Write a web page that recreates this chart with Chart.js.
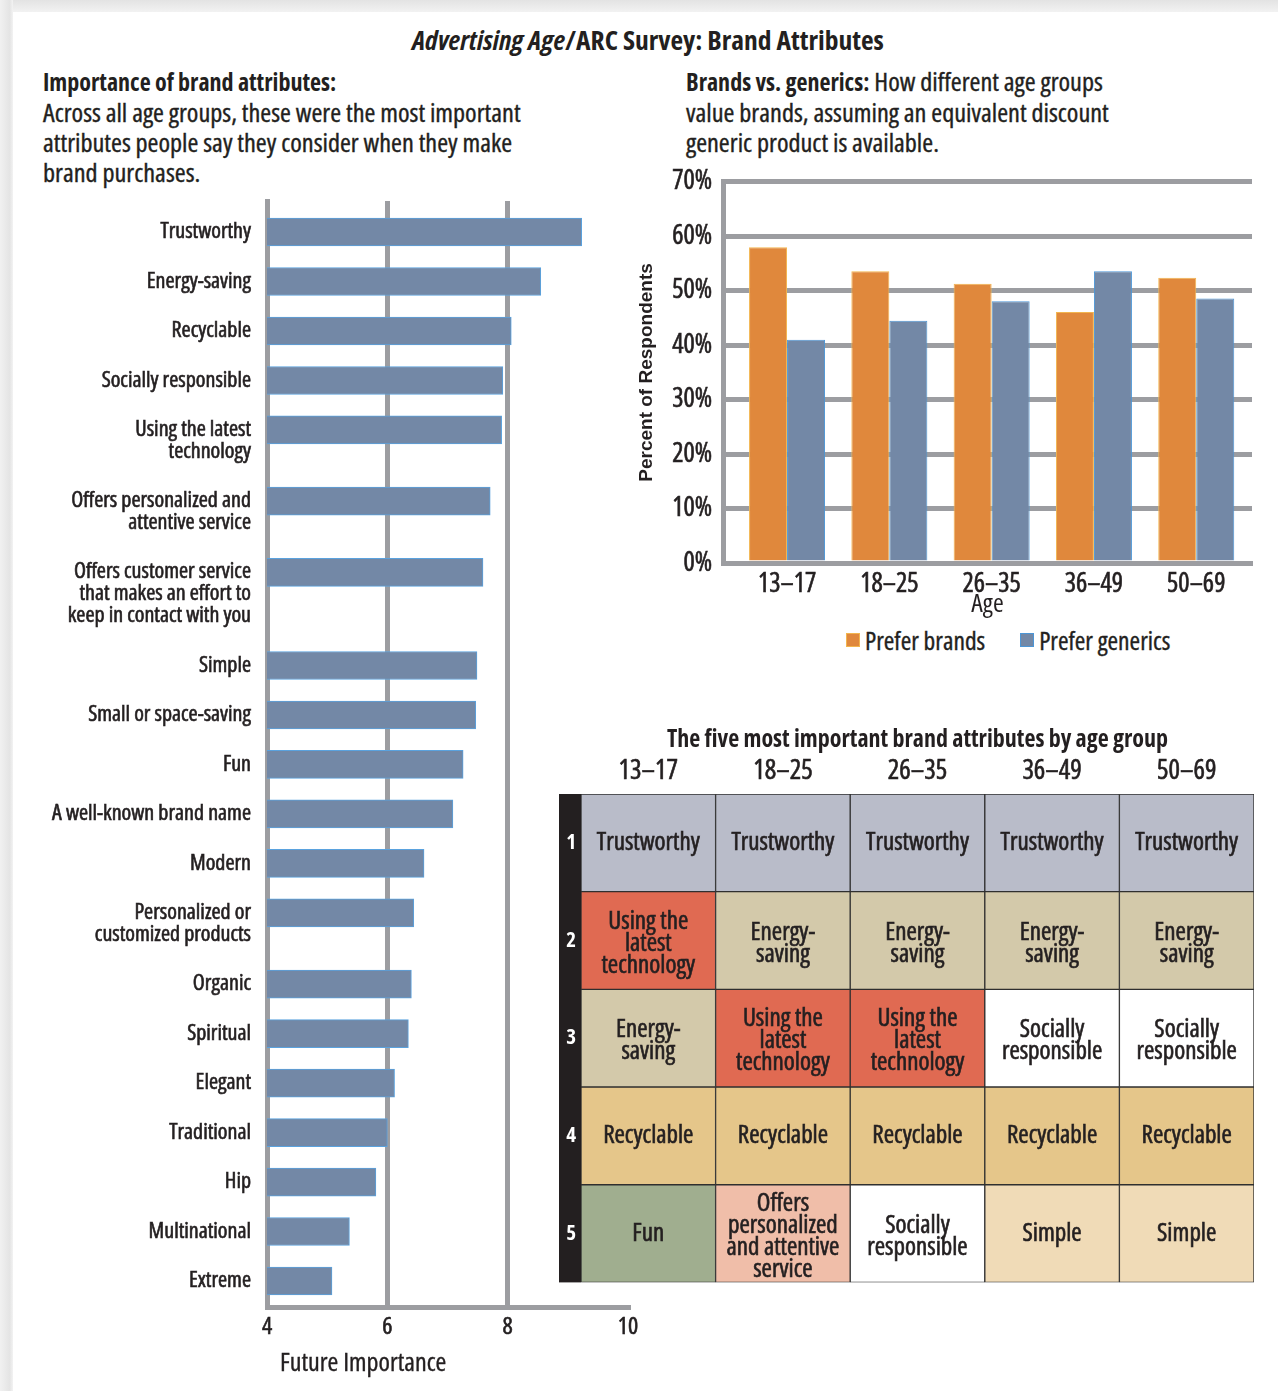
<!DOCTYPE html>
<html lang="en">
<head>
<meta charset="utf-8">
<title>Advertising Age/ARC Survey: Brand Attributes</title>
<script src="https://cdn.jsdelivr.net/npm/chart.js@4.4.1/dist/chart.umd.min.js"></script>
<style>
    body { margin: 0; }
    #page { position: relative; width: 1278px; height: 1391px; background: #fff; overflow: hidden;
            font-family: "Open Sans", sans-serif; font-stretch: condensed; color: #231f20; }
    .randOben { position: absolute; left: 0; top: 0; width: 1278px; height: 12px; background: linear-gradient(#e3e3e3, #f2f2f2); }
    .randLinks { position: absolute; left: 0; top: 0; width: 13px; height: 1391px; background: linear-gradient(to right, #f1f1f1, #e4e4e4 75%, #f3f3f3); }
    #mainTitle { position: absolute; left: 0; top: 24px; width: 1296px; text-align: center; font-size: 27.5px; font-weight: bold; line-height: 32px; white-space: nowrap; }
    .intro { position: absolute; top: 66px; font-size: 26.3px; line-height: 30px; white-space: nowrap; -webkit-text-stroke: 0.35px #231f20; }
    .intro b { font-size: 24px; -webkit-text-stroke: 0; }
    .achse { position: absolute; font-size: 26px; line-height: 30px; white-space: nowrap; -webkit-text-stroke: 0.35px #231f20; }
    #tabTitel { position: absolute; left: 0; top: 723px; width: 1835px; text-align: center; font-size: 24px; font-weight: bold; line-height: 30px; white-space: nowrap; }
    canvas { position: absolute; }
    #brandLegend { position: absolute; left: 846px; top: 627px; height: 26px; display: flex; align-items: center; font-size: 25.5px; line-height: 26px; white-space: nowrap; -webkit-text-stroke: 0.35px #231f20; }
    #brandLegend .box { display: inline-block; width: 12px; height: 12px; border: 1px solid; margin-right: 5px; }
    #brandLegend .item { display: flex; align-items: center; margin-right: 35px; }
</style>
</head>
<body>
<div id="page">
    <div class="randOben"></div>
    <div class="randLinks"></div>
    <div id="mainTitle"><i>Advertising Age</i>/ARC Survey: Brand Attributes</div>
    <div class="intro" style="left:43px"><b>Importance of brand attributes:</b><br>Across all age groups, these were the most important<br>attributes people say they consider when they make<br>brand purchases.</div>
    <div class="intro" style="left:686px"><b>Brands vs. generics:</b> How different age groups<br>value brands, assuming an equivalent discount<br>generic product is available.</div>

    <canvas id="importanceChart" width="650" height="1216" style="left:0px; top:174px"></canvas>
    <div class="achse" style="left:280px; top:1346px">Future Importance</div>
    <canvas id="brandsChart" width="648" height="465" style="left:630px; top:155px"></canvas>
    <div id="brandLegend"></div>
    <div id="tabTitel">The five most important brand attributes by age group</div>
    <canvas id="topChart" width="717" height="585" style="left:559px; top:715px"></canvas>
</div>

<script>
"use strict"

// Eigenschaften links (mehrzeilige Beschriftungen als Array)
const attributeLabels = [
    'Trustworthy',
    'Energy-saving',
    'Recyclable',
    'Socially responsible',
    ['Using the latest', 'technology'],
    ['Offers personalized and', 'attentive service'],
    ['Offers customer service', 'that makes an effort to', 'keep in contact with you'],
    'Simple',
    'Small or space-saving',
    'Fun',
    'A well-known brand name',
    'Modern',
    ['Personalized or', 'customized products'],
    'Organic',
    'Spiritual',
    'Elegant',
    'Traditional',
    'Hip',
    'Multinational',
    'Extreme'
];
const futureImportance = [9.23, 8.55, 8.06, 7.92, 7.9, 7.71, 7.59, 7.49, 7.47, 7.26, 7.09, 6.61, 6.44, 6.4, 6.35, 6.12, 6.0, 5.81, 5.37, 5.08];
const importanceTicks = [4, 6, 8, 10];

// Marke oder No-Name, nach Alter
const ageGroups = ['13–17', '18–25', '26–35', '36–49', '50–69'];
const preferBrands = [58, 53.6, 51.3, 46.1, 52.4];
const preferGenerics = [41, 44.5, 48.1, 53.6, 48.6];
const percentTicks = [0, 10, 20, 30, 40, 50, 60, 70];

// Tabelle: die fuenf wichtigsten Eigenschaften je Altersgruppe (eine Liste pro Rang)
const ranks = ['1', '2', '3', '4', '5'];
const rank1 = ['Trustworthy', 'Trustworthy', 'Trustworthy', 'Trustworthy', 'Trustworthy'];
const rank2 = ['Using the latest technology', 'Energy-saving', 'Energy-saving', 'Energy-saving', 'Energy-saving'];
const rank3 = ['Energy-saving', 'Using the latest technology', 'Using the latest technology', 'Socially responsible', 'Socially responsible'];
const rank4 = ['Recyclable', 'Recyclable', 'Recyclable', 'Recyclable', 'Recyclable'];
const rank5 = ['Fun', 'Offers personalized and attentive service', 'Socially responsible', 'Simple', 'Simple'];
const cellSize = [1, 1, 1, 1, 1]; // jede Zelle ist genau ein Feld hoch

const rangListen = [rank1, rank2, rank3, rank4, rank5];

// Farben und Zeilenumbrueche der Tabellenzellen
const zellFarben = {
    'Trustworthy': '#b9bcc9',
    'Energy-saving': '#d3c9aa',
    'Using the latest technology': '#e06a52',
    'Socially responsible': '#ffffff',
    'Recyclable': '#e5c68a',
    'Fun': '#a0ae8f',
    'Offers personalized and attentive service': '#f0bea9',
    'Simple': '#f0dbb7'
};
const zellUmbruch = {
    'Using the latest technology': ['Using the', 'latest', 'technology'],
    'Energy-saving': ['Energy-', 'saving'],
    'Socially responsible': ['Socially', 'responsible'],
    'Offers personalized and attentive service': ['Offers', 'personalized', 'and attentive', 'service']
};

const SCHRIFT = '"Open Sans", sans-serif';
const SCHMAL = 'condensed'; // schmaler Schnitt, wird ueber das weight-Feld in den Font-String geschrieben
const GRAU = '#9c9da1';
const TEXT = '#231f20';

Chart.defaults.font.family = SCHRIFT;
Chart.defaults.font.weight = SCHMAL;
Chart.defaults.color = TEXT;
Chart.defaults.animation = false;
Chart.defaults.events = [];
Chart.defaults.plugins.legend.display = false;
Chart.defaults.plugins.tooltip.enabled = false;

// etwas kraeftigere Schrift fuer die Achsenbeschriftungen
const strich = { textStrokeColor: TEXT, textStrokeWidth: 0.6 };

// Zeilenpositionen: jede weitere Textzeile im Label schiebt die naechste Zeile etwas nach unten
const EXTRA_ZEILE = 0.44;
let zeilenPos = [];
let labelPos = [];
for (let i = 0; i < attributeLabels.length; i++) {
    let n = Array.isArray(attributeLabels[i]) ? attributeLabels[i].length : 1;
    if (i == 0) {
        zeilenPos.push(0);
    } else {
        let nVor = Array.isArray(attributeLabels[i - 1]) ? attributeLabels[i - 1].length : 1;
        zeilenPos.push(zeilenPos[i - 1] + 1 + EXTRA_ZEILE * (nVor - 1));
    }
    labelPos.push(zeilenPos[i] + EXTRA_ZEILE * (n - 1) / 2); // erste Zeile steht auf Hoehe des Balkens
}

// Balkendiagramm links
new Chart(document.getElementById('importanceChart'), {
    type: 'bar',
    data: {
        datasets: [{
            label: 'Future Importance',
            data: futureImportance.map((v, i) => ({ x: v, y: zeilenPos[i] })),
            backgroundColor: '#7388a6',
            borderColor: '#5aa2de',
            borderWidth: 1,
            borderSkipped: false,
            barThickness: 28
        }]
    },
    options: {
        indexAxis: 'y',
        responsive: false,
        layout: { padding: { top: 0, right: 22, bottom: 0, left: 0 } },
        scales: {
            x: {
                type: 'linear', min: 4, max: 10,
                afterBuildTicks: s => { s.ticks = importanceTicks.map(v => ({ value: v })) },
                afterFit: s => { s.height = 83 },
                ticks: { font: { size: 24 }, padding: 6, ...strich },
                grid: { color: c => (c.tick && c.tick.value == 10) ? 'rgba(0,0,0,0)' : GRAU, lineWidth: 5, drawTicks: false },
                border: { color: GRAU, width: 5 }
            },
            y: {
                type: 'linear', reverse: true, offset: false, min: -0.627, max: 21.725,
                afterBuildTicks: s => { s.ticks = labelPos.map(v => ({ value: v })) },
                afterFit: s => { s.width = 267 },
                ticks: { autoSkip: false, callback: (v, i) => attributeLabels[i], font: { size: 22, lineHeight: '22px' }, padding: 16, ...strich },
                grid: { display: false, drawTicks: false },
                border: { color: GRAU, width: 5 }
            }
        }
    }
});

// Gruppiertes Balkendiagramm rechts oben
const brandsChart = new Chart(document.getElementById('brandsChart'), {
    type: 'bar',
    data: {
        datasets: [{
            label: 'Prefer brands',
            data: preferBrands.map((v, i) => ({ x: i, y: v })),
            backgroundColor: '#e0883c',
            borderColor: '#f3b54e',
            borderWidth: 1
        }, {
            label: 'Prefer generics',
            data: preferGenerics.map((v, i) => ({ x: i, y: v })),
            backgroundColor: '#7388a6',
            borderColor: '#4c96d6',
            borderWidth: 1
        }]
    },
    options: {
        responsive: false,
        datasets: { bar: { categoryPercentage: 0.743, barPercentage: 1 } },
        layout: { padding: { top: 0, right: 26, bottom: 0, left: 0 } },
        scales: {
            x: {
                type: 'linear', offset: false, min: -0.626, max: 4.545,
                afterBuildTicks: s => { s.ticks = ageGroups.map((a, i) => ({ value: i })) },
                afterFit: s => { s.height = 57 },
                ticks: { autoSkip: false, callback: v => ageGroups[v], font: { size: 26.5 }, padding: 6, ...strich },
                grid: { display: false, drawTicks: false },
                border: { color: GRAU, width: 5 },
                title: { display: true, text: 'Age', font: { size: 26 }, padding: { top: 0, bottom: 0 } }
            },
            y: {
                min: 0, max: 70,
                afterBuildTicks: s => { s.ticks = percentTicks.map(v => ({ value: v })) },
                afterFit: s => { s.width = 93 },
                ticks: { callback: v => v + '%', font: { size: 26.5 }, padding: 11, ...strich },
                grid: { color: GRAU, lineWidth: 5, drawTicks: false },
                border: { color: GRAU, width: 5 },
                title: { display: true, text: 'Percent of Respondents', font: { family: '"Liberation Sans", Arial, sans-serif', size: 19, weight: 'bold' }, padding: { top: 5, bottom: 0 } }
            }
        }
    }
});

// Legende als HTML aus den Legenden-Eintraegen von Chart.js
let legendeBox = document.getElementById('brandLegend');
brandsChart.options.plugins.legend.labels.generateLabels(brandsChart).forEach(item => {
    let eintrag = document.createElement('span');
    eintrag.className = 'item';
    let box = document.createElement('span');
    box.className = 'box';
    box.style.background = item.fillStyle;
    box.style.borderColor = item.strokeStyle;
    eintrag.appendChild(box);
    eintrag.appendChild(document.createTextNode(item.text));
    legendeBox.appendChild(eintrag);
});

// schwarze Spalte mit den Raengen
const rangSpalte = {
    id: 'rangSpalte',
    beforeDraw(chart) {
        const { ctx, chartArea, scales } = chart;
        ctx.save();
        ctx.fillStyle = TEXT;
        ctx.fillRect(scales.y.left, chartArea.top, chartArea.left - scales.y.left, chartArea.bottom - chartArea.top);
        ctx.restore();
    }
};

// Text in die Zellen schreiben
const zellText = {
    id: 'zellText',
    afterDatasetsDraw(chart) {
        const ctx = chart.ctx;
        ctx.save();
        ctx.font = SCHMAL + ' 25px ' + SCHRIFT;
        ctx.fillStyle = TEXT;
        ctx.strokeStyle = TEXT;
        ctx.lineWidth = 0.6;
        ctx.textAlign = 'center';
        ctx.textBaseline = 'middle';
        chart.data.datasets.forEach((ds, r) => {
            chart.getDatasetMeta(r).data.forEach((bar, a) => {
                let name = rangListen[r][a];
                let zeilen = zellUmbruch[name] || [name];
                let mitte = (bar.y + bar.base) / 2 + (zeilen.length > 1 ? 3 : 0); // mehrzeilig sitzt etwas tiefer
                zeilen.forEach((z, k) => {
                    let y = mitte + (k - (zeilen.length - 1) / 2) * 22;
                    ctx.strokeText(z, bar.x, y);
                    ctx.fillText(z, bar.x, y);
                });
            });
        });
        ctx.restore();
    }
};

// Tabelle als gestapelte Balken (ein Feld pro Rang und Altersgruppe)
new Chart(document.getElementById('topChart'), {
    type: 'bar',
    data: {
        labels: ageGroups,
        datasets: rangListen.map((liste, r) => ({
            label: 'Rank ' + ranks[r],
            data: cellSize,
            backgroundColor: liste.map(a => zellFarben[a]),
            borderColor: '#2f2f2f',
            borderWidth: 1,
            borderSkipped: false
        }))
    },
    options: {
        responsive: false,
        datasets: { bar: { categoryPercentage: 1, barPercentage: 1 } },
        layout: { padding: { top: 0, right: 22, bottom: 0, left: 0 } },
        scales: {
            x: {
                position: 'top', stacked: true,
                afterFit: s => { s.height = 79 },
                ticks: { font: { size: 27 }, padding: 6, ...strich },
                grid: { display: false, drawTicks: false },
                border: { display: false }
            },
            y: {
                type: 'linear', stacked: true, reverse: true, min: 0, max: 5,
                afterBuildTicks: s => { s.ticks = ranks.map((r, i) => ({ value: i + 0.5 })) },
                afterFit: s => { s.width = 22 },
                ticks: { callback: v => ranks[Math.floor(v)], color: '#ffffff', font: { size: 21, weight: 'bold ' + SCHMAL }, crossAlign: 'center', padding: 5 },
                grid: { display: false, drawTicks: false },
                border: { display: false }
            }
        }
    },
    plugins: [rangSpalte, zellText]
});
</script>
</body>
</html>
